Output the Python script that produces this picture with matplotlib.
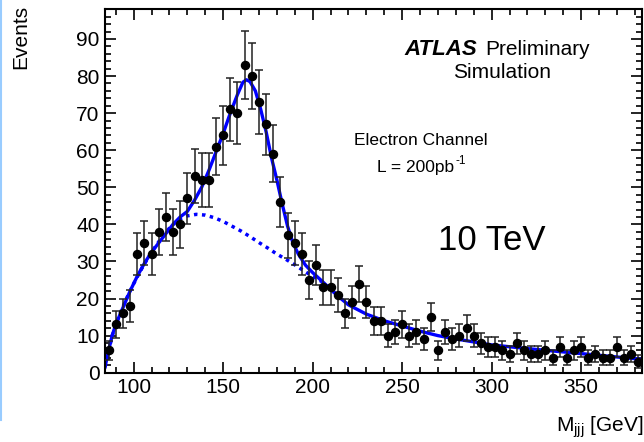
import numpy as np
import matplotlib
matplotlib.use('Agg')
import matplotlib.pyplot as plt
from matplotlib.lines import Line2D
from matplotlib.ticker import MultipleLocator

plt.rcParams['font.family'] = ['Liberation Sans', 'DejaVu Sans']
plt.rcParams['mathtext.fontset'] = 'custom'
plt.rcParams['mathtext.rm'] = 'Liberation Sans'
plt.rcParams['mathtext.it'] = 'Liberation Sans:italic'

# bin centres (4 GeV bins) and event counts
mass = np.arange(86, 383, 4)
events = [6, 13, 16, 18, 32, 35, 32, 38, 42, 38, 40, 47, 53, 52, 52, 61, 64, 71, 70, 83,
          80, 73, 67, 59, 46, 37, 35, 32, 25, 29, 23, 23, 21, 16, 19, 24, 19, 14, 14, 10,
          11, 13, 10, 11, 9, 15, 6, 11, 9, 10, 12, 10, 8, 7, 7, 6, 5, 8, 6, 5,
          5, 6, 4, 7, 4, 6, 7, 4, 5, 4, 4, 7, 4, 5, 3]

# full fit (signal + background)
fit_x = [84, 86, 88, 90, 94, 98, 102, 106, 110, 114, 118, 122, 126, 130, 134, 138, 142,
         146, 150, 154, 158, 161, 163, 165, 168, 171, 174, 177, 180, 183, 186, 189, 192,
         196, 200, 205, 210, 215, 220, 230, 240, 250, 260, 270, 280, 290, 300, 320, 340,
         360, 384]
fit_y = [1.5, 6, 10, 13, 17.5, 22, 26, 29.5, 32.5, 35, 37.5, 40, 42, 43.5, 46.5, 50, 54.5,
         59.5, 64.5, 70, 75, 78.3, 79, 78.5, 76, 71, 65, 58, 52, 45.5, 39.5, 35, 32,
         29, 27, 24.8, 22.5, 20.3, 18.3, 15.8, 14, 12.6, 11.2, 10, 9.1, 8.3, 7.5, 6.5, 5.6,
         4.7, 3.6]

# background only
bkg_x = [84, 88, 92, 96, 100, 105, 110, 115, 120, 125, 130, 135, 140, 145, 150, 155, 160,
         165, 170, 175, 180, 185, 190, 195, 200, 205, 210, 215]
bkg_y = [1.5, 10, 15.5, 20, 24, 28.5, 32.5, 36, 39, 41.3, 42.3, 42.7, 42.5, 41.8, 40.8,
         39.5, 38.2, 36.7, 35.1, 33.6, 32, 30.6, 29.1, 27.5, 26, 24.6, 22.6, 20.3]

fig = plt.figure(figsize=(6.44, 4.42), dpi=100)
ax = fig.add_axes([105 / 644, 1 - 372.7 / 442, 537 / 644, 363.4 / 442])

ax.plot(bkg_x, bkg_y, color='#0000ff', lw=2.5, linestyle=(0, (1, 1.3)))
ax.plot(fit_x, fit_y, color='#0000ff', lw=2.4)
ax.errorbar(mass, events, yerr=np.sqrt(events), fmt='o', color='black', ms=5.8,
            ecolor='#222222', elinewidth=1.1, capsize=3, capthick=1.1, zorder=3)

ax.set_xlim(84, 384)
ax.set_ylim(0, 98)
ax.xaxis.set_major_locator(MultipleLocator(50))
ax.xaxis.set_minor_locator(MultipleLocator(10))
ax.yaxis.set_major_locator(MultipleLocator(10))
ax.yaxis.set_minor_locator(MultipleLocator(2))
ax.tick_params(which='both', direction='in', top=True, right=True, labelsize=15, width=1.2)
ax.tick_params(which='major', length=8, pad=4)
ax.tick_params(which='minor', length=4.5)
for s in ax.spines.values():
    s.set_linewidth(1.5)

fig.text(21 / 644, 1 - 5 / 442, 'Events', rotation=90, ha='center', va='top', fontsize=15)
fig.text(643 / 644, 1 - 432 / 442, r'M$_{\rm jjj}$ [GeV]', ha='right', va='baseline', fontsize=15)

ax.text(0.557, 0.874, 'ATLAS', transform=ax.transAxes, fontsize=16,
        fontweight='bold', fontstyle='italic', va='baseline')
ax.text(0.708, 0.874, 'Preliminary', transform=ax.transAxes, fontsize=15,
        ha='left', va='baseline')
ax.text(0.739, 0.811, 'Simulation', transform=ax.transAxes, fontsize=15,
        ha='center', va='baseline')
ax.text(0.464, 0.627, 'Electron Channel', transform=ax.transAxes, fontsize=12.5,
        va='baseline')
ax.text(0.506, 0.553, 'L = 200pb', transform=ax.transAxes, fontsize=12.5,
        va='baseline')
ax.text(0.652, 0.574, '-1', transform=ax.transAxes, fontsize=8.5, va='baseline')
ax.text(0.621, 0.338, '10 TeV', transform=ax.transAxes, fontsize=25, va='baseline')

# thin light blue slide border on the left
fig.add_artist(Line2D([0.0015, 0.0015], [1 - 420 / 442, 1], color='#99ccff', lw=1.5))

fig.savefig('out.png', dpi=100)
